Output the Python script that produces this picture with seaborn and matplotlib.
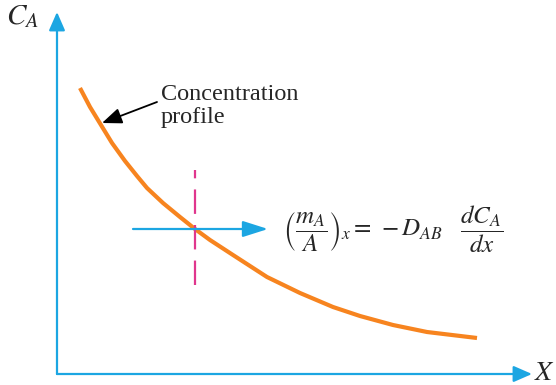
import matplotlib
matplotlib.use("Agg")
import matplotlib.pyplot as plt
import seaborn as sns
import pandas as pd

# concentration profile (x = distance, y = C_A)
curve_x = [23, 33, 44, 55, 68, 80, 90, 106, 123, 138, 153, 176, 210, 243,
           276, 303, 336, 370, 420]
curve_y = [286, 267, 249, 231, 213, 198, 186, 171, 157, 145, 134, 119, 97,
           81, 67, 58, 49, 42, 36]

x_probe = 138          # position of the dashed cut
y_top = 362            # length of the C_A axis
x_end = 475            # length of the X axis

ORANGE = "#f7841f"
BLUE = "#1ca6e2"
MAGENTA = "#e0368d"

sns.set_style("white")
plt.rcParams["font.family"] = ["Liberation Serif", "DejaVu Serif"]
plt.rcParams["mathtext.fontset"] = "stix"

fig = plt.figure(figsize=(5.56, 3.85), dpi=100)
ax = fig.add_axes([0, 0, 1, 1])
ax.set_xlim(-57, 499)
ax.set_ylim(-11, 374)
ax.axis("off")

df = pd.DataFrame({"x": curve_x, "y": curve_y})
sns.lineplot(data=df, x="x", y="y", ax=ax, color=ORANGE, linewidth=3,
             sort=False, solid_capstyle="butt", solid_joinstyle="round",
             zorder=2)

# axes with arrow heads
ax_arrow = dict(arrowstyle="-|>,head_length=0.8,head_width=0.35", color=BLUE,
                lw=1.6, mutation_scale=14, shrinkA=0, shrinkB=0)
ax.annotate("", xy=(0, y_top), xytext=(0, 0), arrowprops=ax_arrow)
ax.annotate("", xy=(x_end, 0), xytext=(0, 0), arrowprops=ax_arrow)
ax.text(-35, 357, r"$C_A$", fontsize=21, ha="center", va="center")
ax.text(487, 1, r"$X$", fontsize=20, ha="center", va="center")

# dashed cut and flux arrow
ax.plot([x_probe, x_probe], [89, 204], color=MAGENTA, lw=1.6,
        linestyle=(0, (11, 5)), zorder=3)
ax.annotate("", xy=(211, 145), xytext=(76, 145),
            arrowprops=dict(arrowstyle="-|>,head_length=1.1,head_width=0.35",
                            color=BLUE, lw=1.6, mutation_scale=14,
                            shrinkA=0, shrinkB=0), zorder=4)

# label and pointer
ax.annotate("", xy=(45, 251), xytext=(100, 272),
            arrowprops=dict(arrowstyle="-|>,head_length=1.0,head_width=0.4",
                            color="black", lw=1.3, mutation_scale=12,
                            shrinkA=0, shrinkB=0))
ax.text(104, 268, "Concentration\nprofile", fontsize=17.5, ha="left",
        va="center", linespacing=1.15)

ax.text(226, 145,
        r"$\left(\dfrac{m_A}{A}\right)_x = \,-D_{AB}\quad\dfrac{dC_A}{dx}$",
        fontsize=18, ha="left", va="center")

fig.savefig("out.png", dpi=100)
